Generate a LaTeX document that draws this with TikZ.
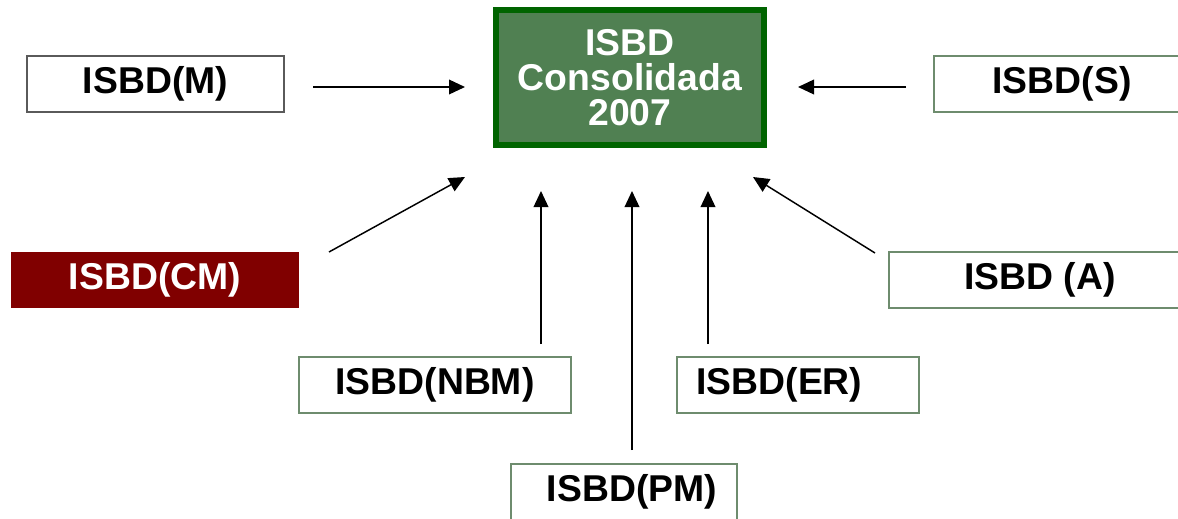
\documentclass[tikz,border=0pt]{standalone}
\usepackage{fontspec}
\setmainfont{Liberation Sans}
\usetikzlibrary{arrows.meta}
\definecolor{boxgreen}{RGB}{80,128,82}
\definecolor{darkborder}{RGB}{0,100,0}
\definecolor{maroonbox}{RGB}{128,0,0}
\definecolor{thinborder}{RGB}{110,140,110}
\definecolor{grayborder}{RGB}{90,90,90}
\tikzset{
  lbl/.style={font=\fontsize{28}{27}\selectfont\bfseries, inner sep=0pt, minimum height=42pt},
  plainbox/.style={lbl, draw=thinborder, line width=0.8pt, fill=white},
  redbox/.style={lbl, fill=maroonbox, text=white},
  centerbox/.style={font=\fontsize{28}{26.5}\selectfont\bfseries, align=center, inner sep=0pt,
     draw=darkborder, line width=4pt, fill=boxgreen, text=white,
     minimum width=201pt, minimum height=101.25pt},
  arr/.style={line width=1.1pt, -{Triangle[length=12pt,width=11pt]}}
}
\begin{document}
\begin{tikzpicture}[x=0.75pt,y=-0.75pt]
\useasboundingbox (0,0) rectangle (1178,518);
\clip (0,0) rectangle (1178,518);
% centre
\node[centerbox] (c) at (630,77.5) {ISBD\\Consolidada\\2007};
% sources
\node[plainbox, draw=grayborder, minimum width=192.75pt] (m) at (155.5,84) {ISBD(M)};
\node[redbox, minimum width=216pt] (cm) at (155,280) {ISBD(CM)};
\node[plainbox, minimum width=192pt] (s) at (1062,84) {ISBD(S)};
\node[plainbox, minimum width=226.5pt] (a) at (1040,280) {\hspace*{0pt}ISBD (A)};
\node[plainbox, minimum width=204pt] (nbm) at (435,385) {ISBD(NBM)};
\node[plainbox, minimum width=181.5pt] (er) at (798,385) {ISBD(ER)\hspace*{28pt}};
\node[plainbox, minimum width=169.5pt] (pm) at (624,492) {\hspace*{12pt}ISBD(PM)};
% connector end points
\coordinate (mS) at (313,87);   \coordinate (mE) at (465,87);
\coordinate (sS) at (906,87);   \coordinate (sE) at (798,87);
\coordinate (cmS) at (329,252); \coordinate (cmE) at (465,177);
\coordinate (nbmS) at (541,344);\coordinate (nbmE) at (541,191);
\coordinate (pmS) at (632,450); \coordinate (pmE) at (632,191);
\coordinate (erS) at (708,344); \coordinate (erE) at (708,191);
\coordinate (aS) at (875,253);  \coordinate (aE) at (753,177);
\draw[arr] (mS) -- (mE);
\draw[arr] (sS) -- (sE);
\draw[arr] (cmS) -- (cmE);
\draw[arr] (nbmS) -- (nbmE);
\draw[arr] (pmS) -- (pmE);
\draw[arr] (erS) -- (erE);
\draw[arr] (aS) -- (aE);
\end{tikzpicture}
\end{document}
